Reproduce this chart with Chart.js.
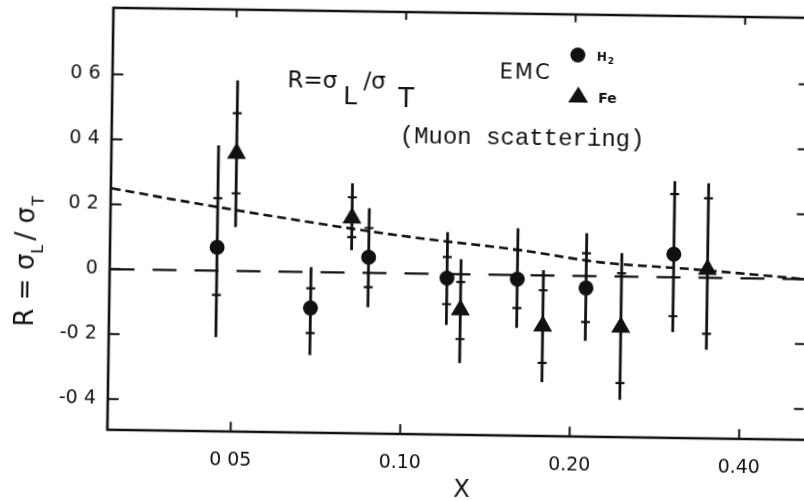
<!DOCTYPE html>
<html>
<head>
<meta charset="utf-8">
<script src="https://cdn.jsdelivr.net/npm/chart.js@4.4.1/dist/chart.umd.min.js"></script>
<style>
  html, body { margin: 0; padding: 0; background: #fff; }
  #wrap { position: relative; width: 804px; height: 501px; overflow: hidden; background: #fff; }
  /* the scanned figure is tilted a little clockwise */
  #myChart { position: absolute; left: 0; top: 0; transform-origin: 402px 250px; transform: rotate(0.83deg); }
</style>
</head>
<body>
<div id="wrap"><canvas id="myChart" width="830" height="501"></canvas></div>
<script>
// EMC, hydrogen target (circles)
const h2X = [0.0468, 0.0688, 0.087, 0.120, 0.160, 0.212, 0.303];
const h2R = [0.072, -0.111, 0.048, -0.013, -0.013, -0.037, 0.071];
const h2TotHi = [0.386, 0.015, 0.199, 0.129, 0.144, 0.132, 0.296];
const h2TotLo = [-0.205, -0.256, -0.106, -0.157, -0.163, -0.200, -0.169];
const h2StatHi = [0.223, -0.050, 0.138, 0.052, 0.077, 0.070, 0.256];
const h2StatLo = [-0.075, -0.188, -0.044, -0.093, -0.102, -0.142, -0.120];

// EMC, iron target (triangles)
const feX = [0.0504, 0.0811, 0.127, 0.178, 0.245, 0.348];
const feR = [0.362, 0.168, -0.110, -0.156, -0.156, 0.026];
const feTotHi = [0.587, 0.275, 0.046, 0.016, 0.072, 0.291];
const feTotLo = [0.135, 0.069, -0.274, -0.329, -0.380, -0.222];
const feStatHi = [0.486, 0.232, -0.024, -0.046, 0.010, 0.245];
const feStatLo = [0.239, 0.109, -0.200, -0.270, -0.328, -0.173];

// short-dashed curve
const fitX = [0.0303, 0.0415, 0.076, 0.107, 0.161, 0.224, 0.324, 0.52];
const fitR = [0.249, 0.21, 0.142, 0.109, 0.077, 0.043, 0.026, 0.0];

// long-dashed R = 0 line
const zeroX = [0.0303, 0.52];
const zeroR = [0, 0];

const xTickVals = [0.05, 0.1, 0.2, 0.4];
const xTickLabels = ["0 05", "0.10", "0.20", "0.40"];
const yTickVals = [-0.4, -0.2, 0, 0.2, 0.4, 0.6];
const yTickLabels = ["-0 4", "-0 2", "0", "0 2", "0 4", "0 6"];

const INK = "#111";
const FONT = "'DejaVu Sans', sans-serif";

const toPoints = function (xs, ys) {
  return xs.map((x, i) => ({ x: x, y: ys[i] }));
};

const drawBars = function (chart, xs, hi, lo, shi, slo) {
  const ctx = chart.ctx;
  const sx = chart.scales.x;
  const sy = chart.scales.y;
  for (let i = 0; i < xs.length; i++) {
    const px = sx.getPixelForValue(xs[i]);
    ctx.beginPath();
    ctx.lineWidth = 2.8;
    ctx.moveTo(px, sy.getPixelForValue(hi[i]));
    ctx.lineTo(px, sy.getPixelForValue(lo[i]));
    ctx.stroke();
    ctx.beginPath();
    ctx.lineWidth = 2.2;
    for (let v of [shi[i], slo[i]]) {
      const py = sy.getPixelForValue(v);
      ctx.moveTo(px - 4.5, py);
      ctx.lineTo(px + 4.5, py);
    }
    ctx.stroke();
  }
};

// text pieces, each at its own offset (used for the sub-scripted labels)
const drawParts = function (ctx, parts, x, y) {
  for (let p of parts) {
    ctx.font = p.font;
    ctx.fillText(p.t, x + p.dx, y + (p.dy || 0));
  }
};

const figurePlugin = {
  id: "figure",
  beforeDatasetsDraw(chart) {
    const ctx = chart.ctx;
    ctx.save();
    ctx.strokeStyle = INK;
    drawBars(chart, h2X, h2TotHi, h2TotLo, h2StatHi, h2StatLo);
    drawBars(chart, feX, feTotHi, feTotLo, feStatHi, feStatLo);
    ctx.restore();
  },
  afterDraw(chart) {
    const ctx = chart.ctx;
    const a = chart.chartArea;
    const sx = chart.scales.x;
    const sy = chart.scales.y;
    ctx.save();
    ctx.strokeStyle = INK;
    ctx.fillStyle = INK;
    ctx.lineCap = "round";

    // frame: left, top, bottom (right edge is off the page)
    ctx.lineWidth = 2.6;
    ctx.beginPath();
    ctx.moveTo(a.right + 10, a.top);
    ctx.lineTo(a.left, a.top);
    ctx.lineTo(a.left, a.bottom);
    ctx.lineTo(a.right + 10, a.bottom);
    ctx.stroke();

    // inward ticks
    ctx.lineWidth = 2;
    ctx.beginPath();
    for (let v of yTickVals) {
      const py = sy.getPixelForValue(v);
      ctx.moveTo(a.left, py);
      ctx.lineTo(a.left + 10, py);
      ctx.moveTo(a.right, py);
      ctx.lineTo(a.right - 8, py);
    }
    for (let v of xTickVals) {
      const px = sx.getPixelForValue(v);
      ctx.moveTo(px, a.bottom);
      ctx.lineTo(px, a.bottom - 9);
      ctx.moveTo(px, a.top);
      ctx.lineTo(px, a.top + 7);
    }
    ctx.stroke();

    ctx.textBaseline = "alphabetic";
    ctx.textAlign = "left";

    // y axis title, rotated
    ctx.save();
    ctx.translate(34, 266);
    ctx.rotate(-Math.PI / 2);
    ctx.font = "26px " + FONT;
    ctx.fillText("R = σ", -66, 0);
    ctx.fillText("/ σ", 20, 0);
    ctx.font = "16px " + FONT;
    ctx.fillText("L", 7, 9);
    ctx.fillText("T", 55, 9);
    ctx.restore();

    // R = sigma_L / sigma_T
    drawParts(ctx, [
      { t: "R=σ", font: "23px " + FONT, dx: 0 },
      { t: "L", font: "25px " + FONT, dx: 56, dy: 16 },
      { t: "/σ", font: "23px " + FONT, dx: 76 },
      { t: "T", font: "26px " + FONT, dx: 111, dy: 18 }
    ], 285, 89);

    // EMC legend
    ctx.font = "21px " + FONT;
    ctx.letterSpacing = "2px";
    ctx.fillText("EMC", 497, 77);
    ctx.letterSpacing = "0px";
    ctx.beginPath();
    ctx.arc(575, 52.5, 7.5, 0, Math.PI * 2);
    ctx.fill();
    ctx.beginPath();
    ctx.moveTo(576, 84);
    ctx.lineTo(586, 100);
    ctx.lineTo(566, 100);
    ctx.closePath();
    ctx.fill();
    drawParts(ctx, [
      { t: "H", font: "bold 12px " + FONT, dx: 0 },
      { t: "2", font: "bold 9px " + FONT, dx: 11, dy: 3 }
    ], 594, 58);
    ctx.font = "bold 14px " + FONT;
    ctx.fillText("Fe", 596, 100);

    ctx.font = "24px 'Liberation Mono', 'DejaVu Sans Mono', monospace";
    ctx.fillText("(Muon scattering)", 398, 143);

    // x axis title
    ctx.font = "24px " + FONT;
    ctx.textAlign = "center";
    ctx.fillText("X", 465, 496);
    ctx.restore();
  }
};

const config = {
  type: "scatter",
  data: {
    datasets: [
      {
        data: toPoints(fitX, fitR),
        showLine: true,
        borderColor: INK,
        borderWidth: 2.6,
        borderDash: [9, 5],
        cubicInterpolationMode: "monotone",
        pointRadius: 0,
        fill: false,
      },
      {
        data: toPoints(zeroX, zeroR),
        showLine: true,
        borderColor: INK,
        borderWidth: 2.2,
        borderDash: [24, 18],
        pointRadius: 0,
        fill: false,
      },
      {
        data: toPoints(h2X, h2R),
        pointStyle: "circle",
        pointRadius: 7.5,
        backgroundColor: INK,
        borderColor: INK,
        borderWidth: 0,
      },
      {
        data: toPoints(feX, feR),
        pointStyle: "triangle",
        pointRadius: 11,
        backgroundColor: INK,
        borderColor: INK,
        borderWidth: 0,
      },
    ],
  },
  options: {
    responsive: false,
    animation: false,
    devicePixelRatio: 1,
    layout: {
      padding: { left: 0, top: 12, right: 25, bottom: 0 },
    },
    scales: {
      x: {
        type: "logarithmic",
        min: 0.0302,
        max: 0.518,
        afterBuildTicks: (scale) => {
          scale.ticks = xTickVals.map((v) => ({ value: v }));
        },
        afterFit: (scale) => {
          scale.height = 67;
          scale.paddingLeft = 0;
          scale.paddingRight = 0;
        },
        grid: { display: false, drawTicks: false },
        border: { display: false },
        ticks: {
          autoSkip: false,
          maxRotation: 0,
          padding: 18,
          color: INK,
          font: { size: 19, family: FONT },
          callback: (value, index) => xTickLabels[index],
        },
      },
      y: {
        min: -0.495,
        max: 0.805,
        afterBuildTicks: (scale) => {
          scale.ticks = yTickVals.map((v) => ({ value: v }));
        },
        afterFit: (scale) => {
          scale.width = 110;
          scale.paddingTop = 0;
          scale.paddingBottom = 0;
        },
        grid: { display: false, drawTicks: false },
        border: { display: false },
        ticks: {
          padding: 12,
          color: INK,
          font: { size: 19, family: FONT },
          callback: (value, index) => yTickLabels[index],
        },
      },
    },
    plugins: {
      legend: { display: false },
      tooltip: { enabled: false },
    },
  },
  plugins: [figurePlugin],
};

const ctx = document.getElementById("myChart");
const rChart = new Chart(ctx, config);
</script>
</body>
</html>
